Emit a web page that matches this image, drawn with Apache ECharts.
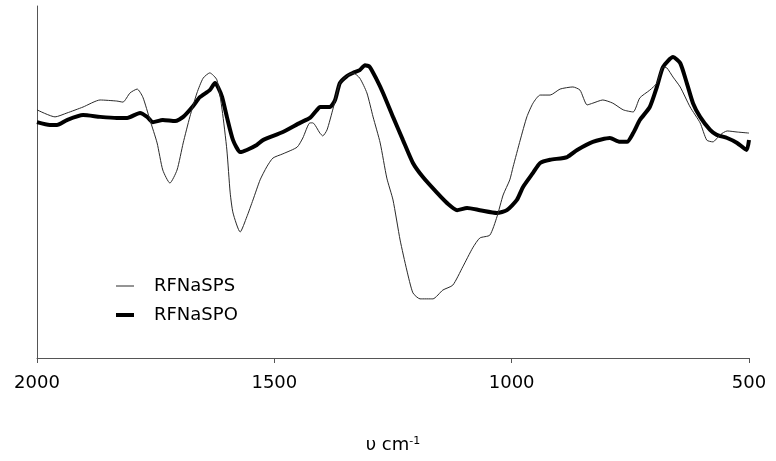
<!DOCTYPE html>
<html>
<head>
<meta charset="utf-8">
<script src="https://cdn.jsdelivr.net/npm/echarts@6/dist/echarts.min.js"></script>
<style>
  html, body { margin: 0; padding: 0; background: #fff; }
  #chart { width: 776px; height: 461px; }
</style>
</head>
<body>
<div id="chart"></div>
<script>
// IR spectra, wavenumber (cm-1) vs. relative transmittance
const seriesNames = ['RFNaSPS', 'RFNaSPO'];
const xTicks = [2000, 1500, 1000, 500];

const spsWave = [2000, 1962, 1937, 1903, 1867, 1832, 1819, 1804, 1789, 1777, 1762, 1747, 1735, 1720, 1705, 1692, 1678, 1663, 1650, 1636, 1621, 1610, 1600, 1593, 1587, 1572, 1558, 1545, 1530, 1516, 1503, 1482, 1452, 1440, 1425, 1419, 1404, 1398, 1389, 1376, 1362, 1347, 1334, 1320, 1305, 1292, 1277, 1263, 1250, 1235, 1221, 1208, 1193, 1166, 1145, 1124, 1103, 1082, 1067, 1046, 1031, 1018, 1004, 997, 982, 968, 955, 940, 919, 898, 871, 856, 841, 829, 808, 787, 765, 744, 730, 709, 694, 681, 673, 660, 645, 624, 603, 589, 576, 561, 546, 525, 500];
const spsValue = [70.5, 68.5, 69.6, 71.3, 73.3, 73.0, 72.7, 75.3, 76.4, 74.1, 67.6, 61.1, 53.4, 49.7, 53.4, 61.1, 68.5, 75.3, 79.5, 81.0, 79.0, 70.5, 59.1, 46.9, 41.2, 35.8, 40.1, 44.9, 50.6, 54.3, 56.8, 58.0, 59.9, 62.5, 66.8, 66.8, 63.9, 63.1, 64.8, 71.0, 78.1, 80.1, 81.0, 79.5, 75.3, 68.5, 61.1, 51.1, 44.9, 33.5, 25.0, 18.5, 16.8, 16.8, 19.3, 20.7, 25.9, 31.3, 34.1, 34.9, 40.1, 46.3, 50.6, 54.3, 61.9, 68.5, 72.4, 74.7, 74.7, 76.4, 77.0, 76.1, 71.9, 72.4, 73.3, 72.4, 70.5, 69.9, 73.9, 76.1, 78.1, 82.7, 82.4, 79.8, 77.0, 71.3, 66.8, 61.9, 61.4, 63.4, 64.5, 64.2, 63.9];

const spoWave = [2000, 1973, 1958, 1937, 1903, 1867, 1832, 1810, 1783, 1768, 1756, 1735, 1709, 1692, 1671, 1657, 1636, 1625, 1619, 1610, 1600, 1587, 1572, 1558, 1537, 1524, 1482, 1446, 1425, 1410, 1404, 1383, 1372, 1362, 1347, 1334, 1320, 1309, 1299, 1284, 1271, 1250, 1229, 1208, 1187, 1157, 1136, 1115, 1094, 1067, 1031, 1010, 989, 976, 955, 940, 919, 883, 862, 829, 793, 772, 757, 744, 730, 709, 694, 681, 660, 645, 631, 618, 603, 582, 568, 546, 525, 505, 500];
const spoValue = [67.0, 66.2, 66.2, 67.6, 69.0, 68.5, 68.2, 68.2, 69.6, 68.5, 67.0, 67.6, 67.3, 68.5, 71.6, 74.1, 76.1, 78.1, 77.0, 74.1, 68.5, 61.9, 58.5, 59.1, 60.5, 61.9, 64.2, 66.8, 68.2, 70.5, 71.3, 71.3, 73.3, 78.1, 80.1, 81.0, 81.8, 83.2, 82.7, 79.0, 75.3, 68.5, 61.9, 55.4, 51.4, 46.9, 44.0, 42.0, 42.6, 42.0, 41.2, 42.0, 44.9, 48.6, 52.6, 55.4, 56.3, 57.1, 59.1, 61.4, 62.5, 61.4, 61.4, 63.9, 67.6, 71.3, 77.0, 82.7, 85.5, 83.8, 78.1, 72.4, 68.5, 64.8, 63.4, 62.5, 61.1, 59.1, 61.9];

const pairs = (xs, ys) => xs.map((x, i) => [x, ys[i]]);
const font = 'DejaVu Sans';

const chart = echarts.init(document.getElementById('chart'), null, { renderer: 'canvas' });
chart.setOption({
  animation: false,
  backgroundColor: '#fff',
  grid: { left: 37, right: 27, top: 6, bottom: 103 },
  legend: {
    orient: 'vertical',
    left: 109,
    top: 272,
    itemWidth: 18,
    itemHeight: 14,
    itemGap: 11,
    itemStyle: { opacity: 0 },
    lineStyle: { width: 'inherit' },
    textStyle: { fontFamily: font, fontSize: 18, color: '#000', padding: [0, 0, 0, 15] },
    data: seriesNames
  },
  xAxis: {
    type: 'value',
    inverse: true,
    min: 500,
    max: 2000,
    interval: 500,
    name: '{a|υ cm}{s|-1}',
    nameLocation: 'middle',
    nameGap: 78,
    nameTextStyle: {
      rich: {
        a: { fontFamily: font, fontSize: 18, color: '#000' },
        s: { fontFamily: font, fontSize: 11, color: '#000', verticalAlign: 'top', padding: [0, 0, 8, 0] }
      }
    },
    axisLine: { show: true, lineStyle: { color: '#555', width: 1 } },
    axisTick: { show: true, length: 5, lineStyle: { color: '#555' } },
    axisLabel: {
      margin: 16, fontFamily: font, fontSize: 18, color: '#000',
      formatter: (v) => String(v)
    },
    splitLine: { show: false }
  },
  yAxis: {
    type: 'value',
    min: 0,
    max: 100,
    axisLine: { show: true, lineStyle: { color: '#555', width: 1 } },
    axisTick: { show: false },
    axisLabel: { show: false },
    splitLine: { show: false }
  },
  series: [
    {
      name: seriesNames[0],
      type: 'line',
      data: pairs(spsWave, spsValue),
      showSymbol: false,
      symbol: 'none',
      smooth: 0.2,
      lineStyle: { color: '#2a2a2a', width: 1 },
      itemStyle: { color: '#2a2a2a' },
      z: 3
    },
    {
      name: seriesNames[1],
      type: 'line',
      data: pairs(spoWave, spoValue),
      showSymbol: false,
      symbol: 'none',
      smooth: 0.2,
      lineStyle: { color: '#000', width: 4 },
      itemStyle: { color: '#000' },
      z: 2
    }
  ]
});
</script>
</body>
</html>
